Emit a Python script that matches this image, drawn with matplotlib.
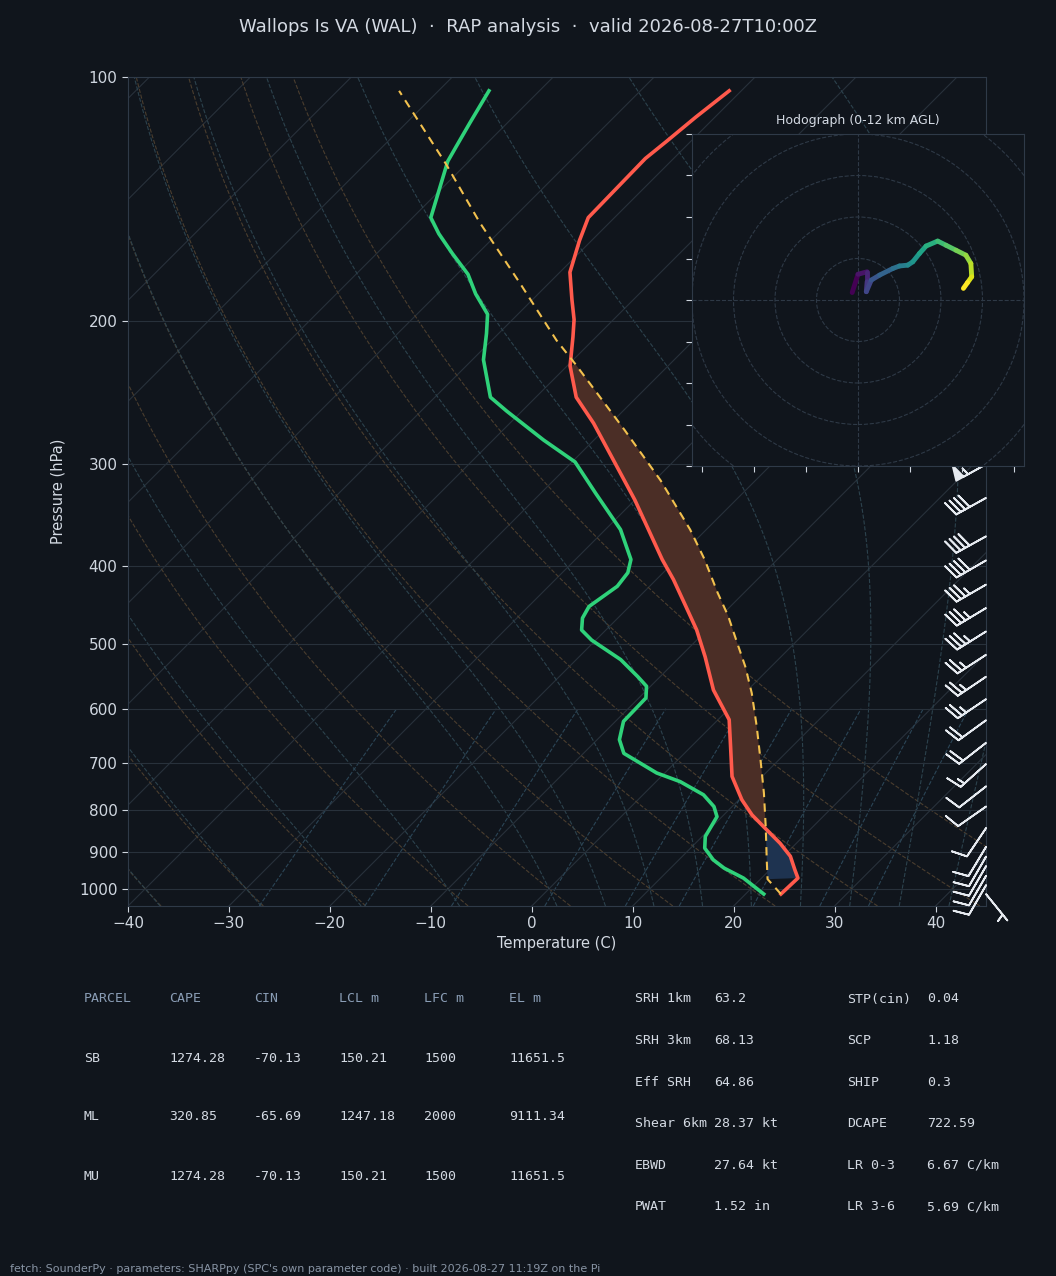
import numpy as np
import matplotlib
matplotlib.use('Agg')
import matplotlib.pyplot as plt
from matplotlib.transforms import Affine2D
from matplotlib.collections import LineCollection
from matplotlib.patches import Circle
from matplotlib.ticker import NullLocator

# --- sounding (hPa / degC) ---
t_pres = [1015, 970, 948, 912, 879, 842, 811, 777, 727, 668, 619, 569, 518, 480,
          449, 416, 393, 372, 332, 298, 267, 248, 227, 209, 199, 188, 174,
          159, 149, 126, 120, 112, 104]
t_vals = [23.5, 23.6, 22.5, 20.7, 18.4, 15.4, 12.8, 10.3, 7.0, 3.9, 1.1, -3.4, -7.5,
          -11.0, -14.4, -18.3, -21.4, -24.2, -30.0, -35.8, -41.7, -46.0, -49.7,
          -52.3, -53.9, -56.1, -59.0, -61.2, -62.6, -62.8, -62.4, -61.9, -61.2]

td_pres = [1015, 970, 943, 921, 891, 862, 815, 792, 766, 738, 720, 681, 655, 622,
           582, 563, 548, 522, 494, 480, 464, 449, 424, 408, 393, 361, 326, 298,
           280, 258, 248, 223, 207, 196, 185, 175, 165, 156, 149, 127, 122, 114, 104]
td_vals = [21.8, 18.2, 15.3, 13.4, 11.4, 10.3, 9.5, 8.2, 6.0, 2.4, -0.8, -6.0, -7.8,
           -9.2, -9.3, -10.4, -12.2, -15.6, -20.4, -22.4, -23.5, -24.0, -23.2, -23.5,
           -24.5, -28.5, -34.5, -39.7, -45.0, -51.5, -54.5, -58.9, -61.2, -63.0, -66.2,
           -68.9, -72.5, -75.8, -78.2, -82.1, -82.7, -83.7, -85.0]

parcel_pres = [1015, 973, 921, 838, 762, 694, 631, 574, 532, 498, 461, 432, 393,
               361, 314, 272, 226, 211, 180, 151, 128, 104]
parcel_vals = [23.5, 20.7, 18.7, 15.3, 11.8, 8.2, 4.5, 0.7, -2.6, -5.7, -9.3, -12.6,
               -17.2, -21.6, -29.4, -38.0, -49.3, -53.6, -62.7, -72.9, -82.0, -93.9]

LCL_P = 973
LFC_P = 838
EL_P = 226

# wind barbs (hPa, kt, deg from)
barb_pres = [300, 330, 368, 394, 422, 451, 482, 515, 548, 584, 620, 661, 702, 748,
             792, 842, 888, 913, 938, 964, 990, 1015]
barb_spd = [55, 40, 40, 40, 35, 35, 35, 25, 25, 25, 20, 20, 15, 10, 10, 10, 10, 10,
            10, 10, 10, 5]
barb_dir = [241, 241, 241, 240, 240, 239, 238, 237, 236, 236, 234, 232, 228, 232,
            235, 214, 211, 210, 210, 210, 210, 141]

# hodograph trace 0-12 km
hodo_u = [-1.4, 0.0, 2.2, 2.2, 2.0, 3.2, 5.2, 8.4, 10.0, 12.0, 13.2, 14.8, 16.4,
          19.2, 21.2, 23.6, 26.0, 27.2, 27.4, 26.4, 25.4]
hodo_v = [1.8, 6.2, 6.8, 4.4, 2.0, 4.8, 6.0, 7.6, 8.2, 8.4, 9.2, 11.2, 13.0, 14.2,
          13.2, 12.0, 10.8, 8.8, 5.6, 4.2, 2.8]

# parcel table
tbl_header = ['PARCEL', 'CAPE', 'CIN', 'LCL m', 'LFC m', 'EL m']
tbl_parcels = ['SB', 'ML', 'MU']
tbl_cape = [1274.28, 320.85, 1274.28]
tbl_cin = [-70.13, -65.69, -70.13]
tbl_lcl = [150.21, 1247.18, 150.21]
tbl_lfc = [1500, 2000, 1500]
tbl_el = [11651.5, 9111.34, 11651.5]

# kinematic / composite parameters
kin_labels = ['SRH 1km', 'SRH 3km', 'Eff SRH', 'Shear 6km', 'EBWD', 'PWAT']
kin_values = ['63.2', '68.13', '64.86', '28.37 kt', '27.64 kt', '1.52 in']
comp_labels = ['STP(cin)', 'SCP', 'SHIP', 'DCAPE', 'LR 0-3', 'LR 3-6']
comp_values = ['0.04', '1.18', '0.3', '722.59', '6.67 C/km', '5.69 C/km']

TITLE = 'Wallops Is VA (WAL)  \u00b7  RAP analysis  \u00b7  valid 2026-08-27T10:00Z'
FOOTER = ("fetch: SounderPy \u00b7 parameters: SHARPpy (SPC's own parameter code) "
          "\u00b7 built 2026-08-27 11:19Z on the Pi")

BG = '#10151c'
GRID = '#28313b'
SPINE = '#2f3a48'
TXT = '#d4dae3'
HEAD = '#8a9db5'

FW, FH = 1056, 1276
fig = plt.figure(figsize=(FW / 100, FH / 100), dpi=100, facecolor=BG)

# skew-T axes
ax_l, ax_r, ax_t, ax_b = 128, 986, 77, 906
ax = fig.add_axes([ax_l / FW, 1 - ax_b / FH, (ax_r - ax_l) / FW, (ax_b - ax_t) / FH],
                  facecolor=BG)
ax.set_yscale('log')
ax.set_xlim(-40, 45)
ax.set_ylim(1050, 100)
ax.set_autoscale_on(False)
skew = (ax.transScale + ax.transLimits
        + Affine2D().skew(np.arctan((ax_b - ax_t) / (ax_r - ax_l)), 0) + ax.transAxes)

# background lines
p_bg = np.geomspace(1050, 100, 200)
for t in range(-130, 41, 10):
    ax.plot([t, t], [1050, 100], color=GRID, lw=0.8, transform=skew, zorder=1)

for t0 in np.arange(-40, 51, 10):
    tt = (t0 + 273.15) * (p_bg / 1000.0) ** 0.2857 - 273.15
    ax.plot(tt, p_bg, color='#4a3d2e', lw=0.8, ls='--', transform=skew, zorder=1)

Rd, Cp, Lv, eps = 287.05, 1004.67, 2.50084e6, 0.62196


def dtdp(p, T):
    es = 6.112 * np.exp(17.67 * (T - 273.15) / (T - 29.65))
    rs = eps * es / (p - es)
    return (Rd * T + Lv * rs) / (Cp + Lv * Lv * rs * eps / (Rd * T * T)) / p


def integrate(T0, plev):
    out = [T0]
    T = T0
    for i in range(len(plev) - 1):
        p, h = plev[i], plev[i + 1] - plev[i]
        k1 = dtdp(p, T)
        k2 = dtdp(p + h / 2, T + h / 2 * k1)
        k3 = dtdp(p + h / 2, T + h / 2 * k2)
        k4 = dtdp(p + h, T + h * k3)
        T = T + h / 6 * (k1 + 2 * k2 + 2 * k3 + k4)
        out.append(T)
    return np.array(out)


moist_t0 = np.concatenate((np.arange(-40, 0, 10), np.arange(0, 46, 5))) + 273.15
p_up = np.linspace(1000, 100, 361)
p_dn = np.linspace(1000, 1050, 11)
m_up = integrate(moist_t0, p_up)
m_dn = integrate(moist_t0, p_dn)
p_m = np.concatenate((p_dn[::-1], p_up[1:]))
t_m = np.concatenate((m_dn[::-1], m_up[1:])) - 273.15
for j in range(len(moist_t0)):
    ax.plot(t_m[:, j], p_m, color='#2c424d', lw=0.8, ls='--', transform=skew, zorder=1)

p_mix = np.linspace(1050, 600, 40)
for w in [0.0004, 0.001, 0.002, 0.004, 0.007, 0.01, 0.016, 0.024, 0.032]:
    e = p_mix * w / (eps + w)
    lg = np.log(e / 6.112)
    ax.plot(243.5 * lg / (17.67 - lg), p_mix, color='#2b4556', lw=0.8, ls='--',
            transform=skew, zorder=1)

# CAPE / CIN shading
tp, tv = np.array(t_pres), np.array(t_vals)
pp, pv = np.array(parcel_pres), np.array(parcel_vals)
sel_p = (pp <= LFC_P) & (pp >= EL_P)
sel_t = (tp <= LFC_P + 5) & (tp >= EL_P)
ax.fill(np.concatenate((pv[sel_p], tv[sel_t][::-1])),
        np.concatenate((pp[sel_p], tp[sel_t][::-1])),
        color='#4b2e26', lw=0, transform=skew, zorder=2)
sel_p = (pp <= LCL_P) & (pp >= LFC_P)
sel_t = (tp <= LCL_P) & (tp >= LFC_P)
ax.fill(np.concatenate((pv[sel_p], tv[sel_t][::-1])),
        np.concatenate((pp[sel_p], tp[sel_t][::-1])),
        color='#1e3350', lw=0, transform=skew, zorder=2)

ax.plot(t_vals, t_pres, color='#ff5a4c', lw=2.6, transform=skew, zorder=4)
ax.plot(td_vals, td_pres, color='#2fd27a', lw=2.6, transform=skew, zorder=4)
ax.plot(parcel_vals, parcel_pres, color='#f2c14e', lw=1.5, ls=(0, (4, 3)),
        transform=skew, zorder=5)

# wind barbs on the right edge
wd = np.deg2rad(barb_dir)
bu = -np.array(barb_spd) * np.sin(wd)
bv = -np.array(barb_spd) * np.cos(wd)
ax.barbs(np.ones(len(barb_pres)), barb_pres, bu, bv, transform=ax.get_yaxis_transform(),
         clip_on=False, length=7, color='#e6eaf0', linewidth=1.3, zorder=6,
         sizes=dict(spacing=0.15, height=0.45))

ax.set_yticks([100, 200, 300, 400, 500, 600, 700, 800, 900, 1000],
              labels=['100', '200', '300', '400', '500', '600', '700', '800', '900', '1000'])
ax.yaxis.set_minor_locator(NullLocator())
ax.set_xticks(range(-40, 41, 10))
ax.grid(axis='y', color=GRID, lw=0.8)
ax.tick_params(colors='#cfd6df', labelsize=11, length=4, width=0.8)
for s in ax.spines.values():
    s.set_color(SPINE)
ax.set_xlabel('Temperature (C)', fontsize=10.5, color=TXT, labelpad=3)
ax.set_ylabel('Pressure (hPa)', fontsize=10.5, color=TXT, labelpad=10)

# hodograph inset
hx_l, hx_r, hx_t, hx_b = 692, 1024, 134, 466
hax = fig.add_axes([hx_l / FW, 1 - hx_b / FH, (hx_r - hx_l) / FW, (hx_b - hx_t) / FH],
                   facecolor=BG)
hax.set_xlim(-40, 40)
hax.set_ylim(-40, 40)
for r in (10, 20, 30, 40, 50):
    hax.add_patch(Circle((0, 0), r, fill=False, ls='--', lw=0.8, ec='#2e3946'))
hax.axhline(0, color='#2e3946', lw=0.8, ls='--')
hax.axvline(0, color='#2e3946', lw=0.8, ls='--')
pts = np.column_stack([hodo_u, hodo_v])
segs = np.stack([pts[:-1], pts[1:]], axis=1)
lc = LineCollection(segs, cmap='viridis', linewidths=3.5, capstyle='round')
lc.set_array(np.arange(len(segs)))
hax.add_collection(lc)
hax.set_xticks(np.arange(-37.5, 38, 12.5))
hax.set_yticks(np.arange(-40, 41, 10))
hax.tick_params(labelleft=False, labelbottom=False, colors='#cfd6df', length=4, width=0.8)
for s in hax.spines.values():
    s.set_color(SPINE)
hax.set_title('Hodograph (0-12 km AGL)', fontsize=9, color=TXT, pad=7)

fig.text(0.5, 1 - 27 / FH, TITLE, ha='center', va='center', fontsize=13, color=TXT)

# parameter tables
mono = 'DejaVu Sans Mono'
col_x = [84, 169, 254, 339, 424, 509]
row_y = [999, 1058, 1117, 1176]
for c, h in enumerate(tbl_header):
    fig.text(col_x[c] / FW, 1 - row_y[0] / FH, h, family=mono, fontsize=9.5,
             color=HEAD, va='center')
for r, name in enumerate(tbl_parcels):
    vals = [name] + [f'{v:g}' for v in (tbl_cape[r], tbl_cin[r], tbl_lcl[r],
                                        tbl_lfc[r], tbl_el[r])]
    for c, s in enumerate(vals):
        fig.text(col_x[c] / FW, 1 - row_y[r + 1] / FH, s, family=mono, fontsize=9.5,
                 color=TXT, va='center')

for i in range(len(kin_labels)):
    y = 1 - (999 + i * 41.6) / FH
    fig.text(635 / FW, y, kin_labels[i], family=mono, fontsize=9.5, color=TXT, va='center')
    fig.text(714 / FW, y, kin_values[i], family=mono, fontsize=9.5, color=TXT, va='center')
    fig.text(847 / FW, y, comp_labels[i], family=mono, fontsize=9.5, color=TXT, va='center')
    fig.text(927 / FW, y, comp_values[i], family=mono, fontsize=9.5, color=TXT, va='center')

fig.text(10 / FW, 1 - 1269 / FH, FOOTER, fontsize=8, color='#8894a4', va='center')

fig.savefig('out.png', dpi=100, facecolor=BG)
